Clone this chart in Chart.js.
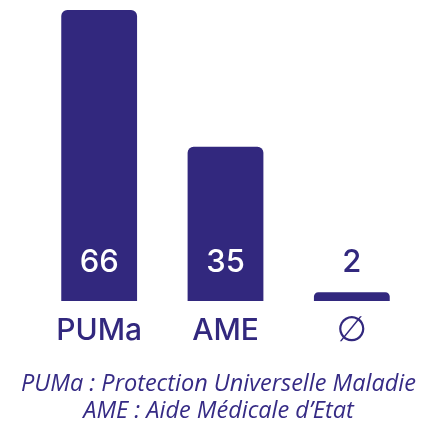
<!DOCTYPE html>
<html>
<head>
<meta charset="utf-8">
<script src="https://cdn.jsdelivr.net/npm/chart.js@4"></script>
<style>
  html, body { margin: 0; padding: 0; background: #fff; }
  #wrap { position: relative; width: 437px; height: 421px; }
  #note {
    position: absolute; left: 0; top: 369px; width: 437px;
    text-align: center; font-family: "Open Sans", sans-serif; font-style: italic;
    font-size: 23.5px; line-height: 26.5px; color: #362b85;
    white-space: nowrap;
  }
</style>
</head>
<body>
<div id="wrap">
  <canvas id="chart"></canvas>
  <div id="note"></div>
</div>
<script>
const categories = ["PUMa", "AME", "\u2205"];
const values = [66, 35, 2];
const footnote = ["PUMa : Protection Universelle Maladie", "AME : Aide Médicale d\u2019Etat"];

const barColor = "#32287e";

document.getElementById("note").innerHTML = footnote.join("<br>");

// value labels: white inside tall bars, dark above small ones
const valueLabels = {
    id: "valueLabels",
    afterDatasetsDraw(chart) {
        const ctx = chart.ctx;
        const meta = chart.getDatasetMeta(0);
        ctx.save();
        ctx.font = "500 31px Inter, 'Open Sans', sans-serif";
        ctx.textAlign = "center";
        ctx.textBaseline = "middle";
        meta.data.forEach((bar, i) => {
            const y = bar.base - 38;
            ctx.fillStyle = (bar.base - bar.y) > 60 ? "#ffffff" : barColor;
            ctx.fillText(String(values[i]), bar.x, y);
        });
        ctx.restore();
    }
};

new Chart(document.getElementById("chart"), {
    type: "bar",
    data: {
        labels: categories,
        datasets: [{
            data: values,
            backgroundColor: barColor,
            borderRadius: { topLeft: 6, topRight: 6, bottomLeft: 0, bottomRight: 0 },
            borderSkipped: "bottom",
            barPercentage: 0.6,
            categoryPercentage: 1
        }]
    },
    options: {
        responsive: true,
        maintainAspectRatio: false,
        animation: false,
        layout: { padding: { left: 36, right: 22, top: 10, bottom: 67 } },
        plugins: {
            legend: { display: false },
            tooltip: { enabled: false }
        },
        scales: {
            x: {
                grid: { display: false },
                border: { display: false },
                ticks: {
                    color: barColor,
                    padding: 5,
                    font: (ctx) => ctx.index === 2
                        ? { family: "'DejaVu Sans'", size: 35, weight: "normal", lineHeight: 1.0 }
                        : { family: "Inter", size: 30, weight: "500", lineHeight: 1.15 }
                }
            },
            y: {
                display: false,
                min: 0,
                max: 66
            }
        }
    },
    plugins: [valueLabels]
});
</script>
</body>
</html>
